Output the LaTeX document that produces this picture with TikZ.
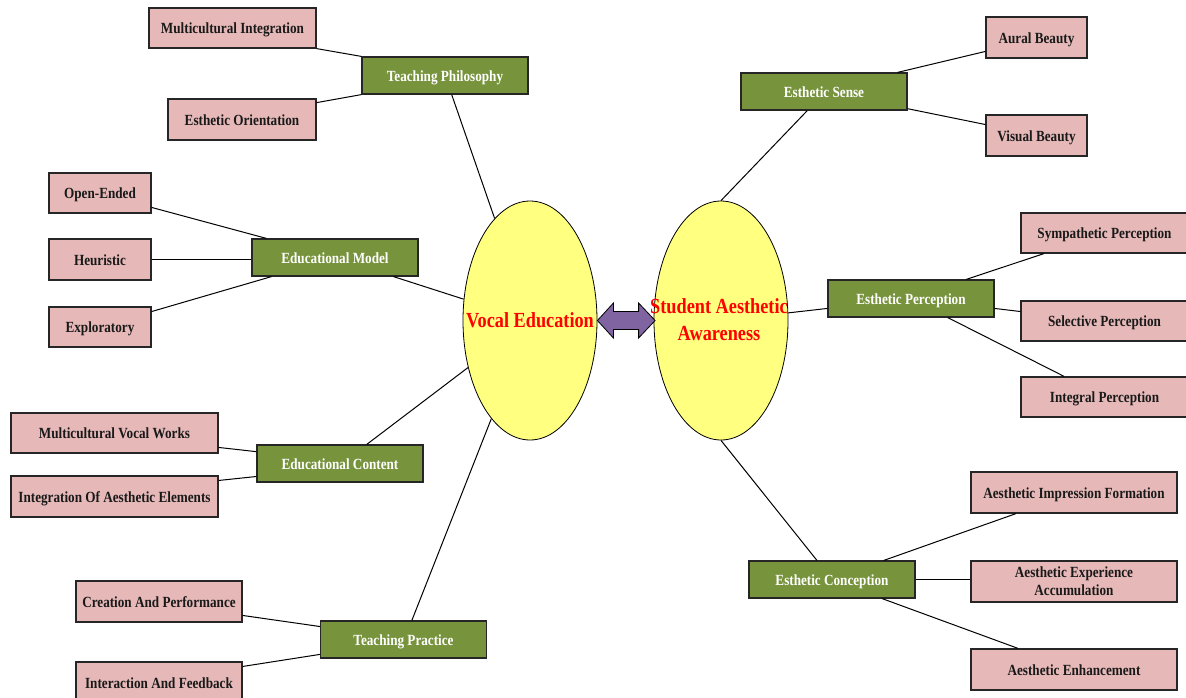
\documentclass[tikz,border=0pt]{standalone}
\usepackage{fontspec}
\setmainfont{Liberation Serif}[FakeStretch=0.85]
\usetikzlibrary{calc,shapes.geometric}
\definecolor{leafpink}{HTML}{E6B9B8}
\definecolor{midgreen}{HTML}{77933C}
\definecolor{coreyellow}{HTML}{FFFF80}
\definecolor{arrowpurple}{HTML}{8064A2}
\tikzset{
  leaf/.style={draw=black!85, line width=1.2pt, fill=leafpink, rectangle, inner sep=0pt,
    minimum height=40pt, font=\fontsize{15.5}{18}\selectfont\bfseries, text=black!90, align=center,
    text height=11pt, text depth=0pt},
  mid/.style={draw=black!85, line width=1.2pt, fill=midgreen, rectangle, inner sep=0pt,
    minimum width=166pt, minimum height=37pt, font=\fontsize{15.5}{18}\selectfont\bfseries, text=white,
    text height=11pt, text depth=0pt},
  core/.style={draw=black, line width=0.8pt, fill=coreyellow, ellipse, inner sep=0pt,
    minimum width=134pt, minimum height=239pt},
  coretext/.style={inner sep=0pt, font=\fontsize{21.5}{27}\selectfont\bfseries,
    text=red, align=center},
  link/.style={draw=black, line width=1pt},
}
\begin{document}
\begin{tikzpicture}[x=1pt,y=-1pt]
\useasboundingbox (0,0) rectangle (1186,697);
% cores
\node[core] (ve) at (530,320.5) {};
\node[core] (saa) at (721,320.5) {};
% left middle nodes
\node[mid] (tp) at (445,75.5) {Teaching Philosophy};
\node[mid] (em) at (335,257.5) {Educational Model};
\node[mid] (ec) at (340,463.5) {Educational Content};
\node[mid] (tpr) at (403.5,639.5) {Teaching Practice};
% right middle nodes
\node[mid] (es) at (824,91.5) {Esthetic Sense};
\node[mid] (ep) at (911,298.5) {Esthetic Perception};
\node[mid] (ecn) at (832,579.5) {Esthetic Conception};
% left leaves
\node[leaf, minimum width=167pt] (mi) at (232.5,28) {Multicultural Integration};
\node[leaf, minimum width=148pt, minimum height=41pt] (eo) at (242,119.5) {Esthetic Orientation};
\node[leaf, minimum width=102pt] (oe) at (100,193) {Open-Ended};
\node[leaf, minimum width=102pt, minimum height=41pt] (heu) at (100,259.5) {Heuristic};
\node[leaf, minimum width=102pt] (exp) at (100,327) {Exploratory};
\node[leaf, minimum width=207pt] (mvw) at (114.5,433) {Multicultural Vocal Works};
\node[leaf, minimum width=207pt, minimum height=41pt] (iae) at (114.5,496.5) {Integration Of Aesthetic Elements};
\node[leaf, minimum width=166pt, minimum height=41pt] (cap) at (159,601.5) {Creation And Performance};
\node[leaf, minimum width=166pt, minimum height=41pt] (iaf) at (159,682.5) {Interaction And Feedback};
% right leaves
\node[leaf, minimum width=101pt, minimum height=41pt] (aural) at (1036.5,37.5) {Aural Beauty};
\node[leaf, minimum width=101pt, minimum height=41pt] (vis) at (1036.5,135.5) {Visual Beauty};
\node[leaf, minimum width=167pt] (sym) at (1104.5,233) {Sympathetic Perception};
\node[leaf, minimum width=167pt] (sel) at (1104.5,321) {Selective Perception};
\node[leaf, minimum width=167pt] (int) at (1104.5,397) {Integral Perception};
\node[leaf, minimum width=206pt, minimum height=41pt] (aif) at (1074,492.5) {Aesthetic Impression Formation};
\node[leaf, minimum width=206pt, minimum height=41pt, text height=, text depth=] (aea) at (1074,581.5) {Aesthetic Experience\\Accumulation};
\node[leaf, minimum width=206pt, minimum height=41pt] (ae) at (1074,669.5) {Aesthetic Enhancement};
% double arrow between cores
\draw[fill=arrowpurple, draw=black, line width=0.8pt]
  (ve.east) -- ++(16,-17.5) -- ++(0,8.5) -- ($(saa.west)+(-15,-9)$) -- ++(0,-8.5)
  -- ($(saa.west)+(1.5,0)$) -- ++(-16.5,17.5) -- ++(0,-8.5) -- ($(ve.east)+(16,9)$) -- ++(0,8.5) -- cycle;
% core texts
\node[coretext] (vet) at (530,320) {Vocal Education};
\node[coretext] (saat) at (719,320) {Student Aesthetic\\Awareness};
% connectors left
\draw[link] (mi.south east) -- (tp.north west);
\draw[link] ($(eo.north east)!0.1!(eo.south east)$) -- (tp.south west);
\draw[link] ($(tp.south west)!0.54!(tp.south east)$) -- (ve);
\draw[link] ($(oe.north east)!0.85!(oe.south east)$) -- ($(em.north west)!0.09!(em.north east)$);
\draw[link] (heu.east) -- (heu.east -| em.west);
\draw[link] ($(exp.north east)!0.125!(exp.south east)$) -- ($(em.south west)!0.12!(em.south east)$);
\draw[link] ($(em.south west)!0.85!(em.south east)$) -- (ve);
\draw[link] ($(mvw.north east)!0.85!(mvw.south east)$) -- ($(ec.north west)!0.19!(ec.south west)$);
\draw[link] ($(iae.north east)!0.12!(iae.south east)$) -- ($(ec.north west)!0.84!(ec.south west)$);
\draw[link] ($(ec.north west)!0.66!(ec.north east)$) -- (ve);
\draw[link] ($(cap.north east)!0.83!(cap.south east)$) -- ($(tpr.north west)!0.16!(tpr.south west)$);
\draw[link] ($(iaf.north east)!0.12!(iaf.south east)$) -- ($(tpr.north west)!0.89!(tpr.south west)$);
\draw[link] ($(tpr.north west)!0.55!(tpr.north east)$) -- (ve);
% connectors right
\draw[link] ($(es.south west)!0.4!(es.south east)$) -- (saa.north);
\draw[link] ($(es.north west)!0.94!(es.north east)$) -- ($(aural.north west)!0.83!(aural.south west)$);
\draw[link] ($(es.north east)!0.95!(es.south east)$) -- ($(vis.north west)!0.24!(vis.south west)$);
\draw[link] (saa) -- ($(ep.north west)!0.76!(ep.south west)$);
\draw[link] ($(ep.north west)!0.83!(ep.north east)$) -- ($(sym.south west)!0.14!(sym.south east)$);
\draw[link] ($(ep.north east)!0.76!(ep.south east)$) -- ($(sel.north west)!0.27!(sel.south west)$);
\draw[link] ($(ep.south west)!0.72!(ep.south east)$) -- ($(int.north west)!0.26!(int.north east)$);
\draw[link] (saa.south) -- ($(ecn.north west)!0.41!(ecn.north east)$);
\draw[link] ($(ecn.north west)!0.81!(ecn.north east)$) -- ($(aif.south west)!0.22!(aif.south east)$);
\draw[link] (ecn.east) -- (ecn.east -| aea.west);
\draw[link] ($(ecn.south west)!0.8!(ecn.south east)$) -- ($(ae.north west)!0.23!(ae.north east)$);
\end{tikzpicture}
\end{document}
